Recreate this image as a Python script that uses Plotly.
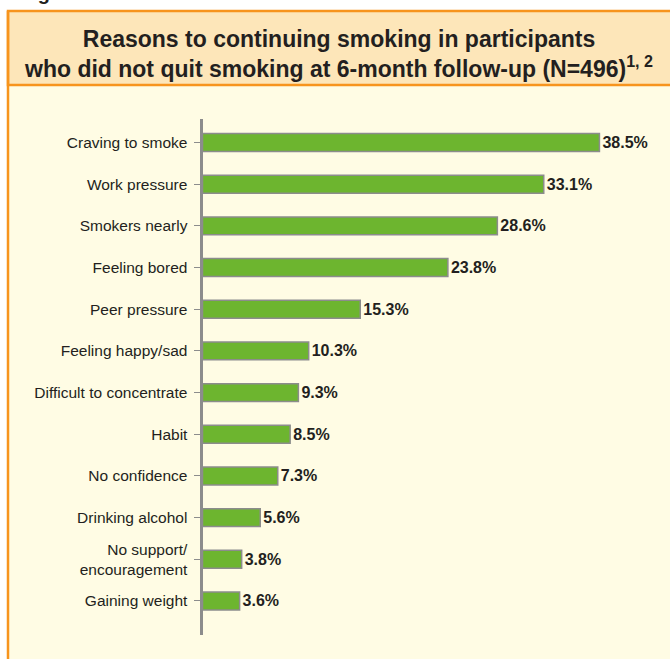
import plotly.graph_objects as go

categories = ["Craving to smoke", "Work pressure", "Smokers nearly", "Feeling bored",
              "Peer pressure", "Feeling happy/sad", "Difficult to concentrate", "Habit",
              "No confidence", "Drinking alcohol", "No support/<br>encouragement",
              "Gaining weight"]
values = [38.5, 33.1, 28.6, 23.8, 15.3, 10.3, 9.3, 8.5, 7.3, 5.6, 3.8, 3.6]
labels = [f"{v:.1f}%" for v in values]

title_text = ("Reasons to continuing smoking in participants<br>"
              "who did not quit smoking at 6-month follow-up (N=496)<sup>1, 2</sup>")

W, H = 670, 659
def px(x):
    return x / W
def py(y):
    return 1 - y / H

ORANGE = "#F7941D"
PEACH = "#FDE6B9"
CREAM = "#FFFCE4"
GREEN = "#6DB52F"
GRAY = "#8C8C8C"
TEXT = "#231F20"

fig = go.Figure(go.Bar(
    x=values, y=categories, orientation="h",
    marker=dict(color=GREEN, line=dict(color=GRAY, width=1.5)),
    width=0.43,
    text=labels, textposition="outside", cliponaxis=False,
    textfont=dict(family="Arial, Liberation Sans", size=16, color=TEXT),
    texttemplate="<b>%{text}</b>",
    hoverinfo="skip",
))

fig.update_layout(
    width=W, height=H, autosize=False,
    margin=dict(l=0, r=0, t=0, b=0),
    paper_bgcolor="white", plot_bgcolor="rgba(0,0,0,0)",
    showlegend=False,
    font=dict(family="Arial, Liberation Sans", color=TEXT),
    xaxis=dict(domain=[px(202.5), 1], range=[0, (670 - 202.5) / 10.31],
               showgrid=False, zeroline=False, showticklabels=False, ticks="",
               showline=False),
    yaxis=dict(domain=[py(635), py(119)], type="category",
               categoryorder="array", categoryarray=categories,
               range=[11.816, -0.564],
               showgrid=False, zeroline=False,
               showline=True, linecolor=GRAY, linewidth=3,
               ticks="outside", ticklen=6, tickcolor=GRAY, tickwidth=1,
               ticklabelstandoff=3,
               tickfont=dict(family="Arial, Liberation Sans", size=15.5, color=TEXT)),
    shapes=[
        dict(type="rect", xref="paper", yref="paper",
             x0=px(8), x1=px(690), y0=py(700), y1=py(85),
             fillcolor=CREAM, line=dict(width=0), layer="below"),
        dict(type="rect", xref="paper", yref="paper",
             x0=px(8), x1=px(690), y0=py(85), y1=py(11),
             fillcolor=PEACH, line=dict(color=ORANGE, width=2.5), layer="below"),
        dict(type="line", xref="paper", yref="paper",
             x0=px(8), x1=px(8), y0=py(700), y1=py(11),
             line=dict(color=ORANGE, width=2.5), layer="below"),
    ],
    annotations=[
        dict(text="<b>Figure 1</b>", xref="paper", yref="paper",
             x=px(18), y=py(6.5), xanchor="left", yanchor="bottom",
             showarrow=False, font=dict(size=20, color=TEXT)),
        dict(text="<b>" + title_text + "</b>", xref="paper", yref="paper",
             x=px(339), y=py(54), xanchor="center", yanchor="middle",
             showarrow=False, align="center",
             font=dict(size=23, color=TEXT)),
    ],
)

fig.write_html("out.html", config={"displayModeBar": False},
               post_script="document.body.style.margin='0';document.body.style.overflow='hidden';")
